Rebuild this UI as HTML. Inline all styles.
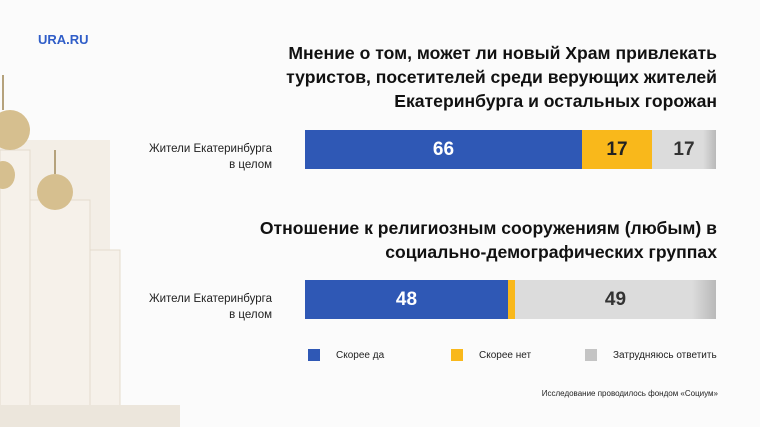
<!DOCTYPE html>
<html><head><meta charset="utf-8"><style>
body{margin:0;width:760px;height:427px;background:#fbfbfb;position:relative;overflow:hidden;font-family:"Liberation Sans",sans-serif;}
.a{position:absolute}
.t{right:43px;text-align:right;font-weight:bold;font-size:17.6px;line-height:24px;color:#111}
.lab{right:488px;text-align:right;font-size:11.5px;line-height:16px;color:#222}
.bar{height:39px;display:flex}
.bar div{height:100%;display:flex;align-items:center;justify-content:center;font-weight:bold;font-size:19px}
.leg{font-size:10px;color:#222;display:flex;align-items:center}
.leg span{display:inline-block;width:12px;height:12px;margin-right:16px}
</style></head><body>
<svg class="a" style="left:0;top:0" width="200" height="427">
<g fill="#f3eee6">
<rect x="0" y="140" width="110" height="287"/>
</g>
<g fill="#f6f1ea" stroke="#e4dccd" stroke-width="1">
<rect x="0" y="150" width="30" height="277"/>
<rect x="30" y="200" width="60" height="227"/>
<rect x="90" y="250" width="30" height="177"/>
</g>
<g fill="#d6bf8f">
<ellipse cx="10" cy="130" rx="20" ry="20"/>
<ellipse cx="3" cy="175" rx="12" ry="14"/>
<ellipse cx="55" cy="192" rx="18" ry="18"/>
</g>
<g stroke="#b5a27c" stroke-width="2">
<line x1="3" y1="75" x2="3" y2="110"/><line x1="55" y1="150" x2="55" y2="174"/>
</g>
<rect x="0" y="405" width="180" height="22" fill="#ece6dc"/>
</svg>
<div class="a" style="left:38px;top:32px;font-weight:bold;font-size:13px;color:#2f5dc8">URA.RU</div>
<div class="a t" style="top:41px">Мнение о том, может ли новый Храм привлекать<br>туристов, посетителей среди верующих жителей<br>Екатеринбурга и остальных горожан</div>
<div class="a lab" style="top:141px">Жители Екатеринбурга<br>в целом</div>
<div class="a bar" style="left:305px;top:130px;width:411px">
<div style="width:277px;background:#2f58b5;color:#fff">66</div>
<div style="width:70px;background:#f9b81b;color:#222">17</div>
<div style="width:64px;background:linear-gradient(90deg,#dcdcdc 80%,#b9b9b9);color:#333">17</div>
</div>
<div class="a t" style="top:216px">Отношение к религиозным сооружениям (любым) в<br>социально-демографических группах</div>
<div class="a lab" style="top:291px">Жители Екатеринбурга<br>в целом</div>
<div class="a bar" style="left:305px;top:280px;width:411px">
<div style="width:203px;background:#2f58b5;color:#fff">48</div>
<div style="width:7px;background:#f9b81b"></div>
<div style="width:201px;background:linear-gradient(90deg,#dcdcdc 88%,#b9b9b9);color:#333">49</div>
</div>
<div class="a leg" style="left:308px;top:349px"><span style="background:#2f58b5"></span>Скорее да</div>
<div class="a leg" style="left:451px;top:349px"><span style="background:#f9b81b"></span>Скорее нет</div>
<div class="a leg" style="left:585px;top:349px"><span style="background:#c4c4c4"></span>Затрудняюсь ответить</div>
<div class="a" style="right:42px;top:389px;font-size:8px;color:#222">Исследование проводилось фондом «Социум»</div>
</body></html>
